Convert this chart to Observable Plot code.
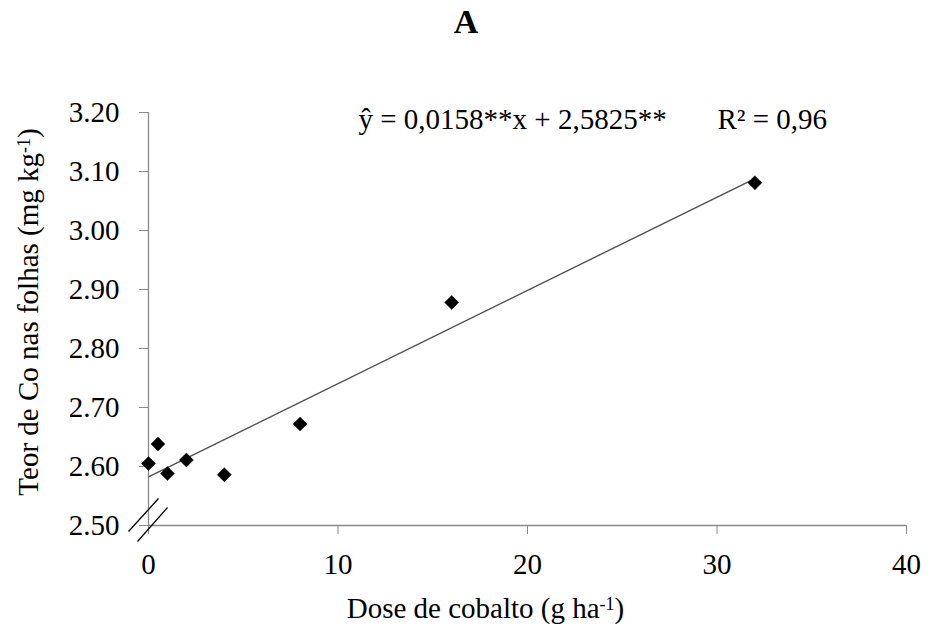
<!DOCTYPE html>
<html>
<head>
<meta charset="utf-8">
<script src="https://cdn.jsdelivr.net/npm/d3@7"></script>
<script src="https://cdn.jsdelivr.net/npm/@observablehq/plot@0.6"></script>
<style>
  html, body { margin: 0; padding: 0; background: #fff; }
  #wrap { width: 929px; height: 637px; position: relative; font-family: "Liberation Serif", "Times New Roman", serif; }
  #title { height: 50px; line-height: 44px; text-align: center; font-weight: bold; font-size: 34px; color: #000; padding-left: 3px; }
  svg { display: block; }
  svg text { font-family: "Liberation Serif", "Times New Roman", serif !important; font-variant: normal !important; }
</style>
</head>
<body>
<div id="wrap">
  <div id="title">A</div>
  <div id="chart"></div>
</div>
<script>
// Data
const doses = [0, 0.5, 1, 2, 4, 8, 16, 32];
const teorCo = [2.605, 2.638, 2.588, 2.611, 2.586, 2.672, 2.878, 3.081];
const xTicks = [0, 10, 20, 30, 40];
const yTicks = [2.5, 2.6, 2.7, 2.8, 2.9, 3.0, 3.1, 3.2];
const slope = 0.0158;
const intercept = 2.5825;
const equationText = "ŷ = 0,0158**x + 2,5825**\u00a0\u00a0\u00a0\u00a0\u00a0\u00a0 R² = 0,96";
const xLabel = "Dose de cobalto (g ha⁻¹)";
const yLabel = "Teor de Co nas folhas (mg kg⁻¹)";

const points = doses.map((d, i) => ({dose: d, teor: teorCo[i]}));
const fit = [{x1: 0, y1: intercept, x2: d3.max(doses), y2: intercept + slope * d3.max(doses)}];

// axis-break marks, expressed in data units relative to origin
const ux = 1 / 18.95, uy = 0.1 / 59;
const breaks = [
  {x1: -20 * ux, y1: 2.5 - 6 * uy, x2: 10 * ux, y2: 2.5 + 27 * uy},
  {x1: -11 * ux, y1: 2.5 - 16 * uy, x2: 19 * ux, y2: 2.5 + 18 * uy}
];

const font = '"Liberation Serif", "Times New Roman", serif';
const gray = "#8a8a8a";

const plot = Plot.plot({
  width: 929,
  height: 587,
  marginLeft: 148,
  marginRight: 23,
  marginTop: 62,
  marginBottom: 112,
  style: {fontFamily: font, fontSize: "29px", color: "#000", background: "#fff", overflow: "visible"},
  x: {domain: [0, 40]},
  y: {domain: [2.5, 3.2]},
  marks: [
    Plot.ruleX([0], {stroke: gray, strokeWidth: 1.3}),
    Plot.ruleY([2.5], {stroke: gray, strokeWidth: 1.3}),
    Plot.axisY({ticks: yTicks, tickFormat: d3.format(".2f"), tickSize: 9, tickPadding: 20, stroke: gray, fill: "#000", fontSize: 29, label: null}),
    Plot.axisX({ticks: xTicks, tickFormat: d3.format("d"), tickSize: 9, tickPadding: 19, stroke: gray, fill: "#000", fontSize: 29, label: null}),
    Plot.link(fit, {x1: "x1", y1: "y1", x2: "x2", y2: "y2", stroke: "#505050", strokeWidth: 1.4}),
    Plot.dot(points, {x: "dose", y: "teor", symbol: "diamond2", r: 6.3, fill: "#000", stroke: "#000", strokeWidth: 0.5}),
    Plot.link(breaks, {x1: "x1", y1: "y1", x2: "x2", y2: "y2", stroke: "#000", strokeWidth: 1.3, clip: false}),
    Plot.text([equationText], {frameAnchor: "top-left", textAnchor: "start", lineAnchor: "middle", dx: 210, dy: 7, fontSize: 29, fill: "#000"}),
    Plot.text([xLabel], {frameAnchor: "bottom", textAnchor: "middle", lineAnchor: "middle", dx: -42, dy: 83, fontSize: 29, fill: "#000"}),
    Plot.text([yLabel], {frameAnchor: "left", textAnchor: "middle", lineAnchor: "middle", rotate: -90, dx: -120, dy: -7, fontSize: 29, fill: "#000"})
  ]
});

// Turn unicode superscript "⁻¹" into a real superscript tspan; force serif font
d3.select(plot).selectAll("text").attr("font-family", font).each(function() {
  const t = this.textContent;
  if (t.includes("⁻¹")) {
    const [pre, post] = t.split("⁻¹");
    const sel = d3.select(this);
    sel.text(null);
    sel.append("tspan").text(pre);
    sel.append("tspan").attr("dy", "-0.45em").attr("font-size", "0.62em").text("-1");
    sel.append("tspan").attr("dy", "0.28em").text(post);
  }
});

document.getElementById("chart").appendChild(plot);
</script>
</body>
</html>
